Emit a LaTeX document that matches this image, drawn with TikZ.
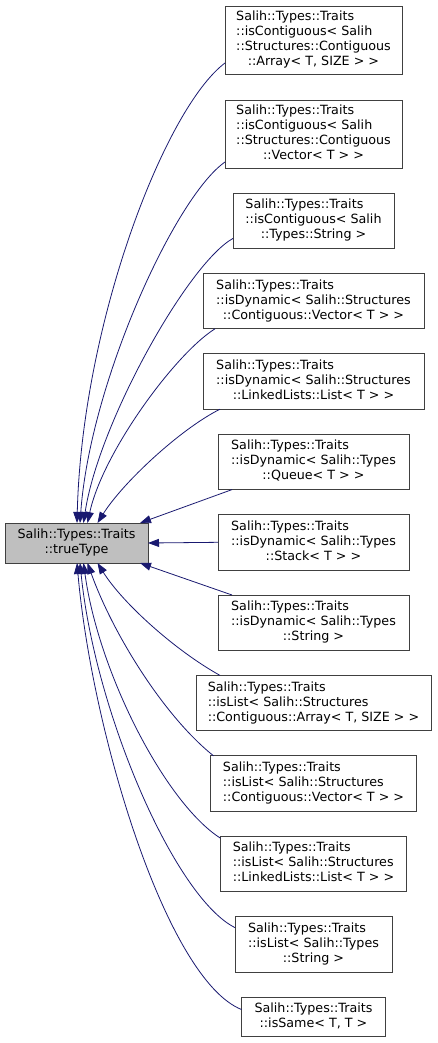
\documentclass[tikz,border=0pt]{standalone}
\usepackage{xcolor}
\usepackage{fontspec}
\usepackage{tikz}
\usetikzlibrary{arrows.meta, positioning}

\newfontfamily\graphfont{DejaVu Sans}
\definecolor{edgeblue}{HTML}{191970}
\definecolor{rootgrey}{HTML}{BFBFBF}
\definecolor{frame}{HTML}{404040}

% lines left-aligned, last line centred
\newcommand{\clsname}[2]{\begin{tabular}{@{}l@{}}#1\\\multicolumn{1}{@{}c@{}}{#2}\end{tabular}}

\begin{document}
\begin{tikzpicture}[
  x=1pt, y=-1pt,
  node distance=25pt,
  cls/.style={draw=frame, line width=0.8pt, fill=white, inner xsep=2pt,
              inner ysep=3pt, outer sep=0pt, minimum height=55.4pt,
              font=\graphfont\fontsize{12.7}{15}\selectfont},
  rootcls/.style={cls, fill=rootgrey, minimum height=40pt},
  edge/.style={draw=edgeblue, line width=0.8pt,
               -{Triangle[length=11pt,width=8pt]}}
]
\useasboundingbox (0,0) rectangle (437,1043);

%% ── Classe de base ──────────────────────────────────────────────
\node[rootcls, minimum width=143pt] (tt) at (76.5,543)
  {\clsname{Salih::Types::Traits}{::trueType}};

%% ── Classes dérivées ────────────────────────────────────────────
\node[cls, minimum width=177pt, minimum height=68pt] (c1) at (313.5,40)
  {\clsname{Salih::Types::Traits\\::isContiguous< Salih\\::Structures::Contiguous}{::Array< T, SIZE > >}};
\node[cls, minimum width=177pt, minimum height=68pt, below=26pt of c1] (c2)
  {\clsname{Salih::Types::Traits\\::isContiguous< Salih\\::Structures::Contiguous}{::Vector< T > >}};
\node[cls, minimum width=161pt, below=of c2] (c3)
  {\clsname{Salih::Types::Traits\\::isContiguous< Salih}{::Types::String >}};
\node[cls, minimum width=221pt, below=of c3] (c4)
  {\clsname{Salih::Types::Traits\\::isDynamic< Salih::Structures}{::Contiguous::Vector< T > >}};
\node[cls, minimum width=221pt, below=of c4] (c5)
  {\clsname{Salih::Types::Traits\\::isDynamic< Salih::Structures}{::LinkedLists::List< T > >}};
\node[cls, minimum width=191pt, below=of c5] (c6)
  {\clsname{Salih::Types::Traits\\::isDynamic< Salih::Types}{::Queue< T > >}};
\node[cls, minimum width=191pt, below=of c6] (c7)
  {\clsname{Salih::Types::Traits\\::isDynamic< Salih::Types}{::Stack< T > >}};
\node[cls, minimum width=191pt, below=of c7] (c8)
  {\clsname{Salih::Types::Traits\\::isDynamic< Salih::Types}{::String >}};
\node[cls, minimum width=235pt, below=of c8] (c9)
  {\clsname{Salih::Types::Traits\\::isList< Salih::Structures}{::Contiguous::Array< T, SIZE > >}};
\node[cls, minimum width=206pt, below=of c9] (c10)
  {\clsname{Salih::Types::Traits\\::isList< Salih::Structures}{::Contiguous::Vector< T > >}};
\node[cls, minimum width=186pt, below=of c10] (c11)
  {\clsname{Salih::Types::Traits\\::isList< Salih::Structures}{::LinkedLists::List< T > >}};
\node[cls, minimum width=157pt, below=of c11] (c12)
  {\clsname{Salih::Types::Traits\\::isList< Salih::Types}{::String >}};
\node[cls, minimum width=144pt, minimum height=39pt, below=of c12] (c13)
  {\clsname{Salih::Types::Traits}{::isSame< T, T >}};

%% ── Héritage (vers le haut de trueType) ─────────────────────────
\draw[edge] ([yshift=-23pt]c1.west)
  .. controls +(-60,45) and +(5,-200) .. ([xshift=0.5pt]tt.north);
\draw[edge] ([yshift=6pt]c2.south west)
  .. controls +(-50,35) and +(10,-140) .. ([xshift=3.5pt]tt.north);
\draw[edge] ([yshift=10pt]c3.south west)
  .. controls +(-45,25) and +(15,-100) .. ([xshift=7pt]tt.north);
\draw[edge] ([xshift=12pt]c4.south west)
  .. controls +(-40,25) and +(15,-70) .. ([xshift=11pt]tt.north);
\draw[edge] ([xshift=17pt]c5.south west)
  .. controls +(-40,20) and +(25,-40) .. ([xshift=21pt]tt.north);

%% ── Héritage (côté droit) ───────────────────────────────────────
\draw[edge] ([xshift=14pt]c6.south west) -- ([xshift=-8pt]tt.north east);
\draw[edge] (c7.west) -- (tt.east);
\draw[edge] ([xshift=14pt]c8.north west) -- ([xshift=-8pt]tt.south east);

%% ── Héritage (vers le bas de trueType) ──────────────────────────
\draw[edge] ([xshift=24pt]c9.north west)
  .. controls +(-45,-25) and +(25,40) .. ([xshift=21pt]tt.south);
\draw[edge] ([xshift=3pt]c10.north west)
  .. controls +(-50,-40) and +(25,70) .. ([xshift=11pt]tt.south);
\draw[edge] ([yshift=-2pt]c11.north west)
  .. controls +(-55,-35) and +(15,110) .. ([xshift=7pt]tt.south);
\draw[edge] ([yshift=-11pt]c12.north west)
  .. controls +(-60,-30) and +(15,150) .. ([xshift=3.5pt]tt.south);
\draw[edge] ([yshift=7pt]c13.west)
  .. controls +(-75,-30) and +(15,170) .. ([xshift=0.5pt]tt.south);

\end{tikzpicture}
\end{document}
